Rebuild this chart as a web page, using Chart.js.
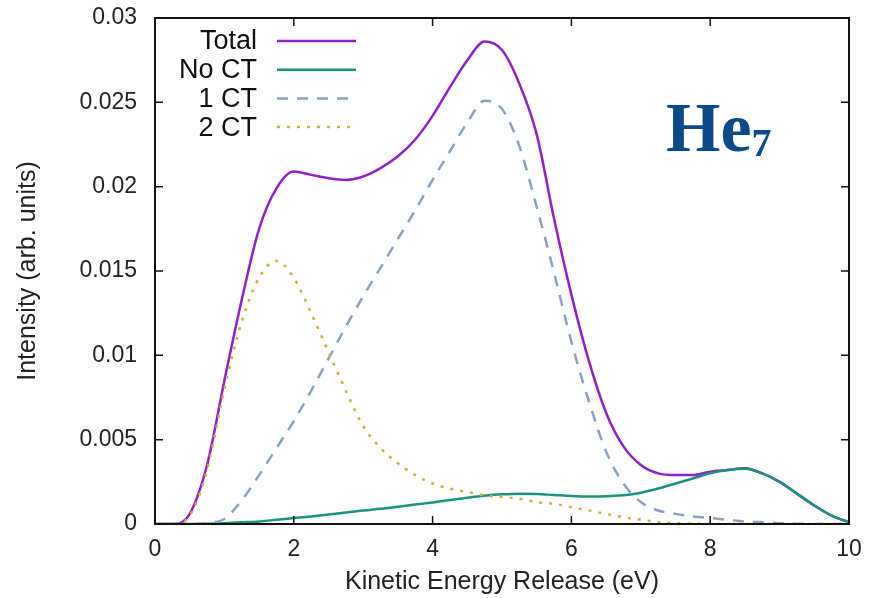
<!DOCTYPE html>
<html>
<head>
<meta charset="utf-8">
<script src="https://cdn.jsdelivr.net/npm/chart.js@4"></script>
<style>
  body { margin: 0; background: #fff; }
  #wrap { width: 873px; height: 598px; }
</style>
</head>
<body>
<div id="wrap"><canvas id="kerChart" width="873" height="598"></canvas></div>
<script>
// datos
const energy = [0, 0.25, 0.5, 0.75, 1, 1.25, 1.5, 1.75, 2, 2.25, 2.5, 2.75, 3, 3.25, 3.5, 3.75, 4, 4.25, 4.5, 4.75, 5,
  5.25, 5.5, 5.75, 6, 6.25, 6.5, 6.75, 7, 7.25, 7.5, 7.75, 8, 8.25, 8.5, 8.75, 9, 9.25, 9.5, 9.75, 10];

const total = [0, 0, 0.0006, 0.0035, 0.0085, 0.0133, 0.0175, 0.0199, 0.0209, 0.0207, 0.0205, 0.0204, 0.0206, 0.0211,
  0.0218, 0.0228, 0.0242, 0.0259, 0.0275, 0.0286, 0.0281, 0.0261, 0.0231, 0.0181, 0.0136, 0.0097, 0.0066, 0.0046, 0.0035,
  0.003, 0.0029, 0.0029, 0.0031, 0.0032, 0.0033, 0.003, 0.0025, 0.0018, 0.0011, 0.0005, 0.0001];

const noCT = [0, 0, 0, 0.00002, 0.00005, 0.0001, 0.00015, 0.00025, 0.00035, 0.00045, 0.00056, 0.00068, 0.0008, 0.0009,
  0.00102, 0.00115, 0.00128, 0.00142, 0.00156, 0.00168, 0.00176, 0.0018, 0.00178, 0.00172, 0.00166, 0.00163, 0.00164, 0.0017,
  0.00185, 0.0021, 0.0024, 0.0027, 0.003, 0.0032, 0.00328, 0.003, 0.0025, 0.0018, 0.0011, 0.0005, 0.0001];

const oneCT = [0, 0, 0, 0.00005, 0.0003, 0.0014, 0.0029, 0.0045, 0.0061, 0.0079, 0.0098, 0.0117, 0.0135, 0.0152, 0.0169,
  0.0186, 0.0204, 0.0221, 0.0238, 0.0251, 0.0246, 0.0224, 0.0188, 0.0149, 0.0108, 0.0073, 0.0043, 0.0024, 0.0013, 0.0008,
  0.0006, 0.00045, 0.00035, 0.00025, 0.00015, 0.0001, 0.00005, 0.00002, 0, 0, 0];

const twoCT = [0, 0, 0.0005, 0.0032, 0.008, 0.012, 0.0146, 0.0156, 0.0146, 0.0125, 0.0102, 0.0079, 0.0058, 0.0045,
  0.0036, 0.0029, 0.0024, 0.0021, 0.0019, 0.0017, 0.0016, 0.0015, 0.0013, 0.0012, 0.001, 0.0008, 0.0006, 0.0004,
  0.00025, 0.00012, 0.00005, 0.00002, 0, 0, 0, 0, 0, 0, 0, 0, 0];

const seriesNames = ["Total", "No CT", "1 CT", "2 CT"];
const xTickStep = 2;
const yTickStep = 0.005;

function toPoints(arr) {
  return energy.map((e, i) => ({ x: e, y: arr[i] }));
}

// plugin: marco, ticks hacia adentro, leyenda estilo gnuplot y etiqueta He7
const gnuplotFrame = {
  id: "gnuplotFrame",
  afterDraw(chart) {
    const ctx = chart.ctx;
    const a = chart.chartArea;
    const xs = chart.scales.x;
    const ys = chart.scales.y;
    const tl = 8;

    ctx.save();
    ctx.strokeStyle = "#111";
    ctx.lineWidth = 1.5;
    ctx.beginPath();
    xs.ticks.forEach((t) => {
      const px = xs.getPixelForValue(t.value);
      ctx.moveTo(px, a.bottom); ctx.lineTo(px, a.bottom - tl);
      ctx.moveTo(px, a.top); ctx.lineTo(px, a.top + tl);
    });
    ys.ticks.forEach((t) => {
      const py = ys.getPixelForValue(t.value);
      ctx.moveTo(a.left, py); ctx.lineTo(a.left + tl, py);
      ctx.moveTo(a.right, py); ctx.lineTo(a.right - tl, py);
    });
    ctx.stroke();

    ctx.lineWidth = 2;
    ctx.strokeRect(a.left, a.top, a.right - a.left, a.bottom - a.top);

    // leyenda
    ctx.font = "27px 'Liberation Sans', Arial, sans-serif";
    ctx.textAlign = "right";
    ctx.textBaseline = "middle";
    chart.data.datasets.forEach((ds, i) => {
      const y = 41 + i * 28.7;
      ctx.fillStyle = "#111";
      ctx.fillText(ds.label, 257, y + 1);
      ctx.strokeStyle = ds.borderColor;
      ctx.lineWidth = ds.borderWidth;
      ctx.setLineDash(ds.borderDash || []);
      ctx.beginPath();
      ctx.moveTo(277, y);
      ctx.lineTo(356, y);
      ctx.stroke();
    });
    ctx.setLineDash([]);

    // He7
    ctx.fillStyle = "#0b4a8b";
    ctx.textAlign = "left";
    ctx.textBaseline = "alphabetic";
    ctx.font = "bold 70px 'Liberation Serif', 'Times New Roman', serif";
    ctx.fillText("He", 666, 151);
    const w = ctx.measureText("He").width;
    ctx.font = "bold 40px 'Liberation Serif', 'Times New Roman', serif";
    ctx.fillText("7", 666 + w, 156);
    ctx.restore();
  }
};

const config = {
  type: "line",
  data: {
    datasets: [
      { label: seriesNames[0], data: toPoints(total), borderColor: "#9020c8", borderWidth: 2.5, order: 4 },
      { label: seriesNames[1], data: toPoints(noCT), borderColor: "#17957d", borderWidth: 2.5, order: 3 },
      { label: seriesNames[2], data: toPoints(oneCT), borderColor: "#8aa2c0", borderWidth: 2.5, borderDash: [11, 9], order: 2 },
      { label: seriesNames[3], data: toPoints(twoCT), borderColor: "#d2b13a", borderWidth: 2.5, borderDash: [3, 7], order: 1 }
    ]
  },
  options: {
    responsive: false,
    animation: false,
    devicePixelRatio: 1,
    layout: { padding: { top: 18, right: 24, left: 0, bottom: 0 } },
    elements: {
      point: { radius: 0 },
      line: { cubicInterpolationMode: "monotone", fill: false }
    },
    plugins: {
      legend: { display: false },
      tooltip: { enabled: false }
    },
    scales: {
      x: {
        type: "linear",
        min: 0,
        max: 10,
        afterFit: (s) => { s.height = 74; s.paddingLeft = 0; s.paddingRight = 0; },
        grid: { display: false, drawTicks: false },
        border: { display: false },
        ticks: {
          stepSize: xTickStep,
          padding: 12,
          color: "#222",
          font: { family: "'Liberation Sans', Arial, sans-serif", size: 23 }
        },
        title: {
          display: true,
          text: "Kinetic Energy Release (eV)",
          color: "#222",
          padding: { top: 0, bottom: 1 },
          font: { family: "'Liberation Sans', Arial, sans-serif", size: 25 }
        }
      },
      y: {
        min: 0,
        max: 0.03,
        afterFit: (s) => { s.width = 155; s.paddingTop = 0; s.paddingBottom = 0; },
        grid: { display: false, drawTicks: false },
        border: { display: false },
        ticks: {
          stepSize: yTickStep,
          padding: 18,
          color: "#222",
          font: { family: "'Liberation Sans', Arial, sans-serif", size: 23 },
          callback: (v) => String(parseFloat(v.toFixed(4)))
        },
        title: {
          display: true,
          text: "Intensity (arb. units)",
          color: "#222",
          padding: { top: 13, bottom: 0 },
          font: { family: "'Liberation Sans', Arial, sans-serif", size: 25 }
        }
      }
    }
  },
  plugins: [gnuplotFrame]
};

new Chart(document.getElementById("kerChart"), config);
</script>
</body>
</html>
